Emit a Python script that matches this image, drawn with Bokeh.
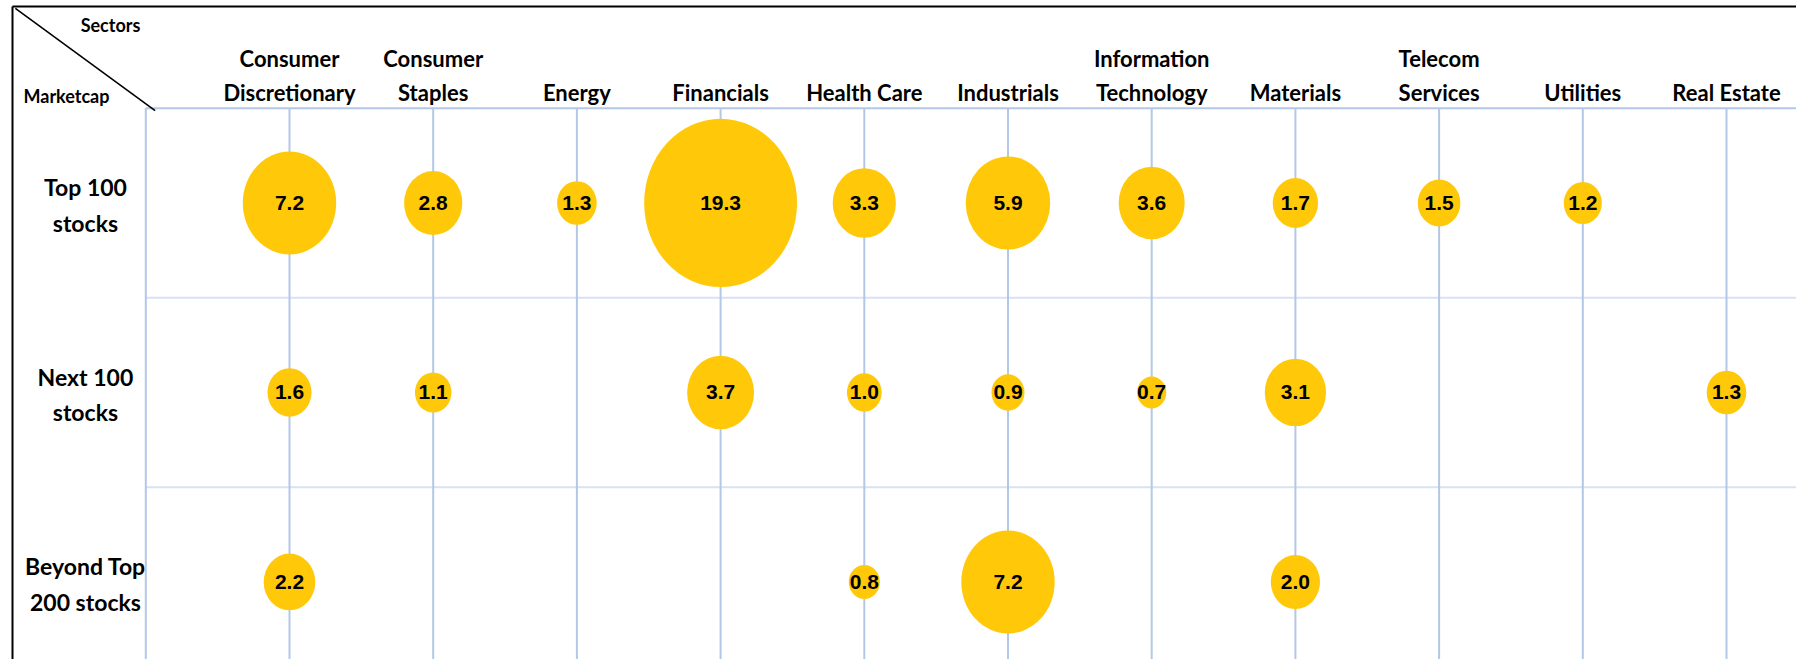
import math
from bokeh.plotting import figure
from bokeh.models import Range1d, ColumnDataSource
from bokeh.core.properties import value
from bokeh.embed import file_html
from bokeh.resources import INLINE

# ---------------- data ----------------
sectors = ["Consumer Discretionary", "Consumer Staples", "Energy", "Financials",
           "Health Care", "Industrials", "Information Technology", "Materials",
           "Telecom Services", "Utilities", "Real Estate"]
sector_labels = ["Consumer\nDiscretionary", "Consumer\nStaples", "Energy", "Financials",
                 "Health Care", "Industrials", "Information\nTechnology", "Materials",
                 "Telecom\nServices", "Utilities", "Real Estate"]
marketcaps = ["Top 100 stocks", "Next 100 stocks", "Beyond Top 200 stocks"]
marketcap_labels = ["Top 100\nstocks", "Next 100\nstocks", "Beyond Top\n200 stocks"]

top100 = [7.2, 2.8, 1.3, 19.3, 3.3, 5.9, 3.6, 1.7, 1.5, 1.2, None]
next100 = [1.6, 1.1, None, 3.7, 1.0, 0.9, 0.7, 3.1, None, None, 1.3]
beyond200 = [2.2, None, None, None, 0.8, 7.2, None, 2.0, None, None, None]
rows = [top100, next100, beyond200]

corner_top = "Sectors"
corner_left = "Marketcap"

# ---------------- styling ----------------
GOLD = "#FFC90A"
GRID_V = "#B4C7E7"
GRID_H = "#D9E2F3"
HEAD_FONT = value("Lato")
NUM_FONT = value("Liberation Sans")

n_sec = len(sectors)
n_row = len(marketcaps)

# bubble cells (area proportional to value)
bx, by, bw, bh, bt = [], [], [], [], []
for r, row in enumerate(rows):
    for i, v in enumerate(row):
        if v is None:
            continue
        bx.append(i)
        by.append(r)
        bw.append(0.2422 * math.sqrt(v))
        bh.append(0.2021 * math.sqrt(v))
        bt.append(f"{v:.1f}")
bubbles = ColumnDataSource(dict(x=bx, y=by, w=bw, h=bh, t=bt))

x_lo, x_hi = -2.0111, 10.4871
y_bottom, y_top = 2.4090, -1.0686

p = figure(width=1796, height=659,
           x_range=Range1d(x_lo, x_hi), y_range=Range1d(y_bottom, y_top),
           x_axis_location=None, y_axis_location=None,
           output_backend="svg", toolbar_location=None, min_border=0,
           background_fill_color="white", border_fill_color="white")
p.grid.visible = False
p.outline_line_color = None

left_edge = -1.0          # plot area left line (one column step left of first sector)
top_edge = -0.5           # top boundary of first row
bottom_far = n_row + 0.6
right_far = n_sec + 0.6

# horizontal row separators
p.segment(x0=[left_edge, left_edge], x1=[right_far, right_far],
          y0=[0.5, 1.5], y1=[0.5, 1.5], line_color=GRID_H, line_width=2)
# top line of plot area
p.segment(x0=[left_edge], x1=[right_far], y0=[top_edge], y1=[top_edge],
          line_color=GRID_V, line_width=2)
# vertical lines: plot-area edge + one per sector
vx = [left_edge] + list(range(n_sec))
p.segment(x0=vx, x1=vx, y0=[top_edge] * len(vx), y1=[bottom_far] * len(vx),
          line_color=GRID_V, line_width=2)

# outer frame (top and left) and corner diagonal
BX, BY = -1.9276, -1.0369
p.segment(x0=[BX, BX], x1=[right_far, BX], y0=[BY, BY], y1=[BY, bottom_far],
          line_color="black", line_width=2)
p.segment(x0=[BX + 0.02], y0=[BY + 0.01], x1=[left_edge + 0.065], y1=[top_edge + 0.012],
          line_color="black", line_width=1.6)

# bubbles
p.ellipse(x="x", y="y", width="w", height="h", source=bubbles,
          fill_color=GOLD, line_color=None)
p.text(x="x", y="y", text="t", source=bubbles, text_font=NUM_FONT,
       text_font_style="bold", text_font_size="21px", text_color="black",
       text_align="center", text_baseline="middle")

# sector header labels
p.text(x=list(range(n_sec)), y=[top_edge] * n_sec, text=sector_labels,
       text_font=HEAD_FONT, text_font_style="bold", text_font_size="22px",
       text_color="black", text_align="center", text_baseline="bottom",
       text_line_height=1.28, y_offset=-2)

# marketcap row labels
label_col = -1.42
p.text(x=[label_col] * n_row, y=list(range(n_row)), text=marketcap_labels,
       text_font=HEAD_FONT, text_font_style="bold", text_font_size="23px",
       text_color="black", text_align="center", text_baseline="middle",
       text_line_height=1.28, y_offset=2)

# corner labels
p.text(x=[-1.2457], y=[-0.9367], text=[corner_top], text_font=HEAD_FONT,
       text_font_style="bold", text_font_size="18px", text_color="black",
       text_align="center", text_baseline="middle")
p.text(x=[-1.552], y=[-0.567], text=[corner_left], text_font=HEAD_FONT,
       text_font_style="bold", text_font_size="18px", text_color="black",
       text_align="center", text_baseline="middle")

open("out.html", "w").write(file_html(p, INLINE))
